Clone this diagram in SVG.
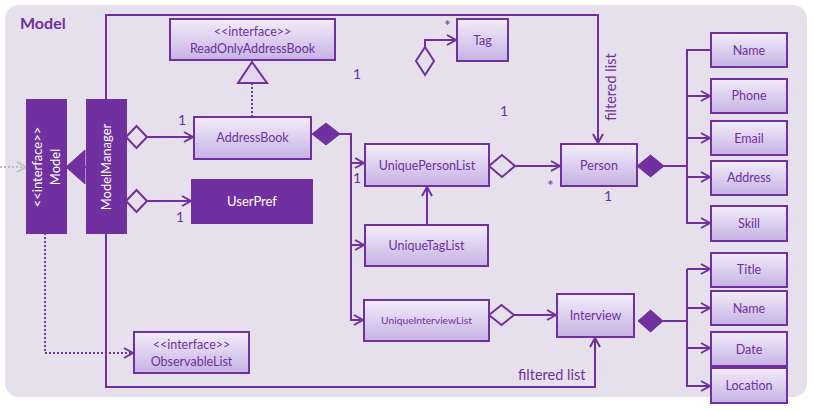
<svg xmlns="http://www.w3.org/2000/svg" width="814" height="411" viewBox="0 0 814 411">
<defs>
<linearGradient id="g" x1="0" y1="0" x2="0" y2="1">
<stop offset="0" stop-color="#F2EDFA"/>
<stop offset="1" stop-color="#C6B2E4"/>
</linearGradient>
<marker id="arr" viewBox="0 0 12 12" refX="10" refY="6" markerWidth="12" markerHeight="12" markerUnits="userSpaceOnUse" orient="auto">
<path d="M1,1 L10,6 L1,11" fill="none" stroke="#7030A0" stroke-width="2"/>
</marker>
<marker id="arrg" viewBox="0 0 12 12" refX="10" refY="6" markerWidth="12" markerHeight="12" markerUnits="userSpaceOnUse" orient="auto">
<path d="M1,1 L10,6 L1,11" fill="none" stroke="#BFBFBF" stroke-width="2"/>
</marker>
</defs>
<style>
.box{fill:url(#g);stroke:#7030A0;stroke-width:2}
.dark{fill:#7030A0;stroke:#7030A0;stroke-width:2}
.t{font-family:Lato,"Open Sans",sans-serif;font-size:12.5px;fill:#7030A0;text-anchor:middle}
.w{font-family:Lato,"Open Sans",sans-serif;font-size:13px;fill:#FFFFFF;text-anchor:middle}
.ln{fill:none;stroke:#7030A0;stroke-width:2}
.dot{fill:none;stroke:#7030A0;stroke-width:2;stroke-dasharray:2 2}
.od{fill:#E6E0EC;stroke:#7030A0;stroke-width:2}
.fd{fill:#7030A0;stroke:#7030A0;stroke-width:1}
.lbl{font-family:Lato,"Open Sans",sans-serif;font-size:14px;fill:#7030A0}
</style>
<rect x="5" y="5" width="802" height="392" rx="14" fill="#E6E0EC"/>
<text x="20" y="29" font-family="Lato,'Open Sans',sans-serif" font-size="16" font-weight="bold" fill="#7030A0">Model</text>

<g id="connectors">
<path class="ln" d="M106,100 V15 H598 V143" marker-end="url(#arr)"/>
<path class="ln" d="M106,233 V387 H595 V338" marker-end="url(#arr)"/>
<path class="dot" d="M45,233 V353 H133" marker-end="url(#arr)"/>
<path d="M0,167 H26" fill="none" stroke="#BFBFBF" stroke-width="2" stroke-dasharray="2 2" marker-end="url(#arrg)"/>
<path class="ln" d="M85,167 H88"/>
<polygon class="fd" points="66,167 85,150 85,184"/>
<path class="dot" d="M252,117 V84"/>
<polygon points="252,62 238,83 267,83" fill="#E2D6F2" stroke="#7030A0" stroke-width="2"/>
<polygon class="od" points="126,137 136.5,126 147,137 136.5,148"/>
<path class="ln" d="M147,137 H193" marker-end="url(#arr)"/>
<polygon class="od" points="126,201 136.5,190 147,201 136.5,212"/>
<path class="ln" d="M147,201 H191" marker-end="url(#arr)"/>
<polygon class="fd" points="312,134 326,123 340,134 326,145"/>
<path class="ln" d="M340,134 H351 V320 H363" marker-end="url(#arr)"/>
<path class="ln" d="M351,163 H364" marker-end="url(#arr)"/>
<path class="ln" d="M351,245 H364" marker-end="url(#arr)"/>
<polygon class="od" points="489,166 502,155 515,166 502,177"/>
<path class="ln" d="M515,166 H560" marker-end="url(#arr)"/>
<path class="ln" d="M427,225 V187" marker-end="url(#arr)"/>
<polygon class="od" points="489,315 501.5,305 514,315 501.5,325"/>
<path class="ln" d="M514,315 H556" marker-end="url(#arr)"/>
<polygon class="fd" points="637,166 650.5,155 664,166 650.5,177"/>
<path class="ln" d="M664,166 H687"/>
<path class="ln" d="M710,50 H687 V223 H710" marker-start="url(#arr)" marker-end="url(#arr)"/>
<path class="ln" d="M687,96 H710" marker-end="url(#arr)"/>
<path class="ln" d="M687,138 H710" marker-end="url(#arr)"/>
<path class="ln" d="M687,177 H710" marker-end="url(#arr)"/>
<polygon class="fd" points="638,321 650.5,310 663,321 650.5,332"/>
<path class="ln" d="M663,321 H687"/>
<path class="ln" d="M687,269 V386 H710" marker-end="url(#arr)"/>
<path class="ln" d="M687,269 H710" marker-end="url(#arr)"/>
<path class="ln" d="M687,308 H710" marker-end="url(#arr)"/>
<path class="ln" d="M687,348 H710" marker-end="url(#arr)"/>
<polygon class="od" points="425,47 434,61 425,75 416,61"/>
<path class="ln" d="M425,47 V40 H456" marker-end="url(#arr)"/>
</g>

<g id="labels">
<text class="lbl" x="178" y="125">1</text>
<text class="lbl" x="176" y="222">1</text>
<text class="lbl" x="353" y="79">1</text>
<text class="lbl" x="500" y="116">1</text>
<text class="lbl" x="353" y="183">1</text>
<text class="lbl" x="604" y="201">1</text>
<text class="lbl" x="547" y="191" style="font-size:16px">*</text>
<text class="lbl" x="444" y="31" style="font-size:16px">*</text>
<text class="lbl" x="518" y="380" style="font-size:14.5px">filtered list</text>
<text class="lbl" transform="translate(616,87) rotate(-90)" text-anchor="middle" style="font-size:14.5px">filtered list</text>
</g>

<g id="ReadOnlyAddressBook"><rect class="box" x="170" y="19" width="165" height="41"/><text class="t" x="252.5" y="36">&lt;&lt;interface&gt;&gt;</text><text class="t" x="252.5" y="53">ReadOnlyAddressBook</text></g>
<g id="Model"><rect class="dark" x="27" y="100" width="39" height="133"/><text class="w" transform="translate(42,167) rotate(-90)">&lt;&lt;interface&gt;&gt;</text><text class="w" transform="translate(60,167) rotate(-90)">Model</text></g>
<g id="ModelManager"><rect class="dark" x="87" y="100" width="39" height="133"/><text class="w" transform="translate(111,167) rotate(-90)">ModelManager</text></g>
<g id="AddressBook"><rect class="box" x="194" y="117" width="117" height="42"/><text class="t" x="252.5" y="142">AddressBook</text></g>
<g id="UserPref"><rect class="dark" x="192" y="180" width="120" height="43"/><text class="w" x="252" y="206">UserPref</text></g>
<g id="Tag"><rect class="box" x="457" y="19" width="51" height="42"/><text class="t" x="482.5" y="45">Tag</text></g>
<g id="UniquePersonList"><rect class="box" x="365" y="144" width="124" height="42"/><text class="t" x="427" y="170">UniquePersonList</text></g>
<g id="UniqueTagList"><rect class="box" x="365" y="225" width="123" height="41"/><text class="t" x="426.5" y="250">UniqueTagList</text></g>
<g id="UniqueInterviewList"><rect class="box" x="364" y="300" width="125" height="41"/><text class="t" x="426.5" y="324" style="font-size:10.3px">UniqueInterviewList</text></g>
<g id="ObservableList"><rect class="box" x="134" y="332" width="115" height="41"/><text class="t" x="191.5" y="349">&lt;&lt;interface&gt;&gt;</text><text class="t" x="191.5" y="366">ObservableList</text></g>
<g id="Person"><rect class="box" x="561" y="144" width="76" height="42"/><text class="t" x="599" y="170">Person</text></g>
<g id="Interview"><rect class="box" x="557" y="294" width="77" height="43"/><text class="t" x="595.5" y="320">Interview</text></g>
<g id="Name"><rect class="box" x="711" y="33" width="76" height="34"/><text class="t" x="749" y="55">Name</text></g>
<g id="Phone"><rect class="box" x="711" y="79" width="76" height="34"/><text class="t" x="749" y="100">Phone</text></g>
<g id="Email"><rect class="box" x="711" y="121" width="76" height="34"/><text class="t" x="749" y="143">Email</text></g>
<g id="Address"><rect class="box" x="711" y="161" width="76" height="34"/><text class="t" x="749" y="182">Address</text></g>
<g id="Skill"><rect class="box" x="711" y="206" width="76" height="35"/><text class="t" x="749" y="228">Skill</text></g>
<g id="Title"><rect class="box" x="711" y="253" width="76" height="34"/><text class="t" x="749" y="274">Title</text></g>
<g id="InterviewName"><rect class="box" x="711" y="291" width="76" height="34"/><text class="t" x="749" y="313">Name</text></g>
<g id="Date"><rect class="box" x="711" y="332" width="76" height="34"/><text class="t" x="749" y="354">Date</text></g>
<g id="Location"><rect class="box" x="711" y="368" width="76" height="35"/><text class="t" x="749" y="390">Location</text></g>
</svg>
